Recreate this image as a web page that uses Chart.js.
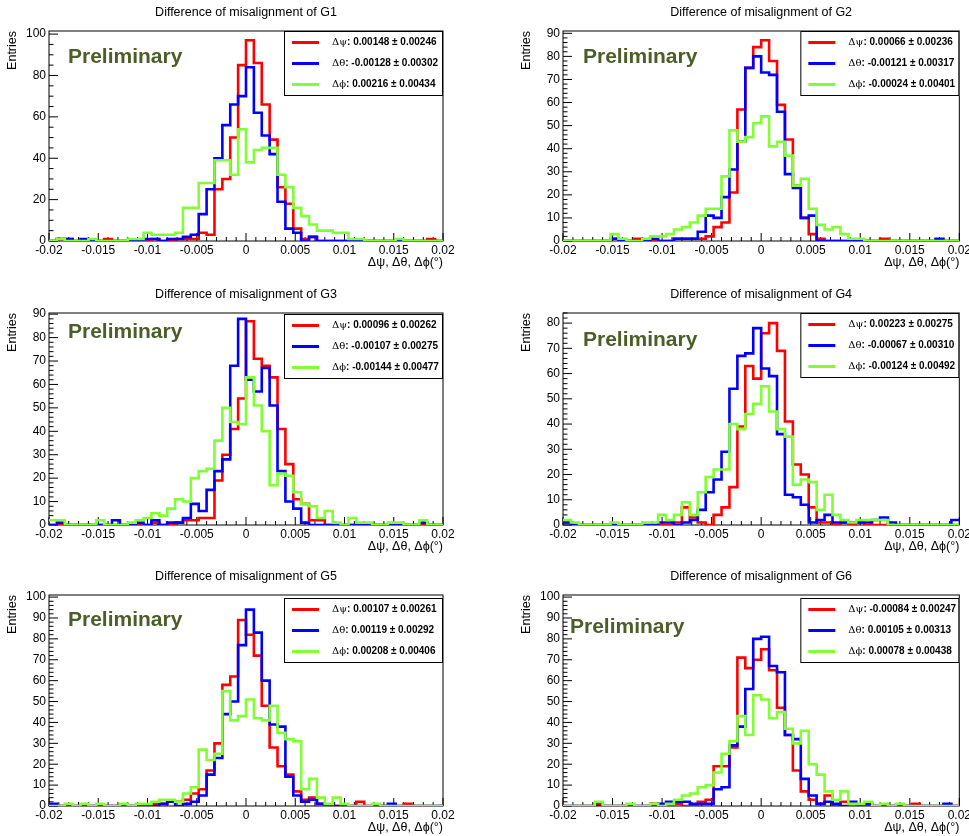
<!DOCTYPE html>
<html>
<head>
<meta charset="utf-8">
<script src="https://cdn.jsdelivr.net/npm/chart.js@4.4.0/dist/chart.umd.min.js"></script>
<style>
    html, body { margin: 0; padding: 0; background: #fff; overflow: hidden; }
    #page { position: relative; width: 969px; height: 836px; }
    #page canvas { position: absolute; }
</style>
</head>
<body>
<div id="page"></div>
<script>
//histogram binning: 50 bins of 0.0008 between -0.02 and 0.02
const binStart = -0.02;
const binWidth = 0.0008;
const xTickValues = [-0.02, -0.015, -0.01, -0.005, 0, 0.005, 0.01, 0.015, 0.02];

//entries per bin (psi = red, theta = blue, phi = green)
const g1Psi   = [0,1,1,0,0,0,0,1,0,0, 0,0,0,1,0,0,1,1,1,4, 3,25,30,50,85,97,86,66,49,26, 18,6,1,2,0,0,0,0,0,0, 0,0,0,0,0,0,0,0,1,0];
const g1Theta = [0,1,1,0,1,0,0,0,0,0, 0,0,1,1,0,1,1,2,3,13, 25,40,56,66,70,84,62,51,42,19, 6,4,0,2,0,0,0,0,0,0, 0,0,0,0,0,0,0,0,0,0];
const g1Phi   = [0,1,0,0,0,1,0,0,0,0, 1,1,4,3,3,3,4,16,16,28, 28,39,39,32,54,38,44,45,45,32, 26,16,12,8,5,5,4,4,1,1, 0,0,0,0,1,0,0,0,0,0];

const g2Psi   = [0,0,0,0,0,0,1,0,0,1, 0,0,0,0,1,1,1,1,2,6, 8,21,57,75,84,87,78,59,44,24, 10,3,1,0,0,0,0,0,0,0, 1,0,0,0,0,0,0,0,0,0];
const g2Theta = [0,0,0,0,0,0,1,0,0,0, 0,1,0,0,1,1,1,4,11,10, 19,31,43,75,80,73,72,56,29,23, 10,11,0,0,0,0,0,0,0,0, 0,0,0,0,0,0,0,1,0,0];
const g2Phi   = [0,0,0,0,0,0,3,1,0,0, 1,2,2,3,5,6,8,11,14,14, 28,48,43,45,51,54,41,43,37,24, 27,14,7,5,6,3,1,1,0,0, 0,0,0,0,0,0,0,0,0,0];

const g3Psi   = [0,0,0,0,0,0,0,0,0,0, 0,0,0,1,0,0,1,2,2,3, 3,19,30,41,54,87,71,68,63,41, 26,11,9,2,2,0,0,0,0,0, 0,0,0,0,0,0,0,0,0,0];
const g3Theta = [0,1,0,0,0,0,0,0,2,0, 0,1,0,2,0,1,1,3,9,6, 15,23,28,68,88,62,57,67,51,23, 10,7,1,0,0,0,0,0,0,0, 0,0,0,0,0,0,0,1,0,0];
const g3Phi   = [2,2,0,0,0,0,2,0,0,0, 1,2,3,5,4,7,11,10,20,23, 24,36,50,44,43,63,51,40,17,22, 21,14,9,8,3,6,1,0,3,1, 1,0,0,1,1,0,0,2,0,0];

const g4Psi   = [1,0,0,0,0,0,0,0,0,0, 0,0,0,0,1,7,3,1,0,4, 7,15,39,63,58,76,80,69,41,24, 20,7,1,1,0,1,0,1,0,0, 0,0,0,0,0,0,0,0,0,0];
const g4Theta = [1,0,0,0,0,0,0,0,0,0, 0,0,1,1,0,1,2,6,13,18, 29,54,67,68,78,62,59,36,12,11, 8,1,2,4,1,1,1,1,1,2, 3,1,0,0,0,0,0,0,0,2];
const g4Phi   = [2,1,0,0,0,0,1,0,0,0, 1,1,4,2,4,9,4,13,19,22, 22,40,38,44,48,55,45,38,35,16, 18,17,6,12,4,2,1,2,2,2, 2,0,0,0,0,0,0,0,0,0];

const g5Psi   = [0,0,0,0,0,0,0,0,0,0, 0,0,0,1,1,2,2,3,6,8, 17,30,58,62,89,82,72,48,28,19, 15,7,3,4,1,0,0,0,0,2, 0,0,0,0,0,1,0,0,0,0];
const g5Theta = [1,0,0,0,0,0,0,0,0,0, 0,0,0,0,1,2,0,1,2,5, 15,23,44,50,77,94,83,60,39,38, 14,5,2,3,1,0,0,0,0,0, 0,0,0,1,0,0,0,0,0,0];
const g5Phi   = [0,0,1,0,1,0,1,0,0,1, 0,1,1,2,3,3,2,6,9,27, 22,25,55,41,43,51,42,41,48,35, 32,31,8,13,4,1,4,1,0,0, 0,1,0,0,0,0,0,0,0,0];

const g6Psi   = [0,0,0,0,1,0,0,0,0,0, 0,1,0,0,1,0,0,2,3,19, 19,28,71,66,70,75,65,47,34,17, 7,3,1,5,0,2,0,0,0,0, 0,0,0,0,1,0,0,0,0,0];
const g6Theta = [0,0,0,0,0,0,0,0,0,0, 0,0,1,2,2,2,1,1,1,8, 9,29,38,56,80,81,67,64,34,32, 13,5,1,2,1,0,2,0,1,0, 0,0,0,0,0,0,0,0,1,0];
const g6Phi   = [0,0,0,0,2,0,0,0,1,0, 0,1,0,1,3,5,6,9,10,16, 25,31,43,34,53,51,42,45,37,30, 36,20,15,7,3,7,1,1,2,0, 1,0,1,0,0,0,0,0,0,0];

//fit results shown in the legends
const g1Labels = ["Δψ: 0.00148 ± 0.00246", "Δθ: -0.00128 ± 0.00302", "Δϕ: 0.00216 ± 0.00434"];
const g2Labels = ["Δψ: 0.00066 ± 0.00236", "Δθ: -0.00121 ± 0.00317", "Δϕ: -0.00024 ± 0.00401"];
const g3Labels = ["Δψ: 0.00096 ± 0.00262", "Δθ: -0.00107 ± 0.00275", "Δϕ: -0.00144 ± 0.00477"];
const g4Labels = ["Δψ: 0.00223 ± 0.00275", "Δθ: -0.00067 ± 0.00310", "Δϕ: -0.00124 ± 0.00492"];
const g5Labels = ["Δψ: 0.00107 ± 0.00261", "Δθ: 0.00119 ± 0.00292", "Δϕ: 0.00208 ± 0.00406"];
const g6Labels = ["Δψ: -0.00084 ± 0.00247", "Δθ: 0.00105 ± 0.00313", "Δϕ: 0.00078 ± 0.00438"];

const colors = ["#ff0000", "#0000ff", "#80ff33"];

//one entry per pad: data + where the canvas sits on the page
const panels = [
    {title: "Difference of misalignment of G1", series: [g1Psi, g1Theta, g1Phi], labels: g1Labels, yMax: 101.5, yStep: 20, yMinor: 5,
        left: 0, top: 0, w: 484, h: 275, padBottom: 4, padRight: 41, prelim: [19, 26], legendDy: 0},
    {title: "Difference of misalignment of G2", series: [g2Psi, g2Theta, g2Phi], labels: g2Labels, yMax: 91, yStep: 10, yMinor: 2,
        left: 514, top: 0, w: 459, h: 275, padBottom: 4, padRight: 13, prelim: [20, 26], legendDy: 0},
    {title: "Difference of misalignment of G3", series: [g3Psi, g3Theta, g3Phi], labels: g3Labels, yMax: 90.5, yStep: 10, yMinor: 2,
        left: 0, top: 282, w: 484, h: 277, padBottom: 4, padRight: 41, prelim: [19, 19], legendDy: 1},
    {title: "Difference of misalignment of G4", series: [g4Psi, g4Theta, g4Phi], labels: g4Labels, yMax: 84, yStep: 10, yMinor: 2,
        left: 514, top: 282, w: 459, h: 277, padBottom: 4, padRight: 13, prelim: [20, 27], legendDy: 0},
    {title: "Difference of misalignment of G5", series: [g5Psi, g5Theta, g5Phi], labels: g5Labels, yMax: 101, yStep: 10, yMinor: 2,
        left: 0, top: 564, w: 484, h: 272, padBottom: 0, padRight: 41, prelim: [19, 25], legendDy: 3},
    {title: "Difference of misalignment of G6", series: [g6Psi, g6Theta, g6Phi], labels: g6Labels, yMax: 101, yStep: 10, yMinor: 2,
        left: 514, top: 564, w: 459, h: 272, padBottom: 0, padRight: 13, prelim: [7, 32], legendDy: 3}
];

Chart.defaults.font.family = '"Liberation Sans", Arial, sans-serif';
Chart.defaults.color = "#000";

//turn bin contents into step points at the bin edges (last edge repeats the last bin)
function histPoints(values){
    const points = values.map((v, i) => ({x: binStart + i * binWidth, y: v}));
    points.push({x: binStart + values.length * binWidth, y: values[values.length - 1]});
    return points;
}

function formatX(value){
    return String(Number(value.toFixed(3)));
}

//ROOT style frame with inward ticks, the Preliminary tag and the boxed legend
const rootPad = {
    id: "rootPad",
    beforeDatasetsDraw(chart, args, opts){
        const {ctx, chartArea: a, scales: {x, y}} = chart;
        ctx.save();
        ctx.strokeStyle = "#000";
        ctx.lineWidth = 1;
        ctx.strokeRect(a.left, a.top, a.width, a.height);
        ctx.beginPath();
        //x ticks: major every 0.005, minor every 0.001
        for(let k = 0; k <= 40; k++){
            const px = x.getPixelForValue(-0.02 + k * 0.001);
            const len = (k % 5 === 0) ? 8 : 4;
            ctx.moveTo(px, a.bottom);
            ctx.lineTo(px, a.bottom - len);
        }
        //y ticks
        for(let v = 0; v <= opts.yMax; v += opts.yMinor){
            const py = y.getPixelForValue(v);
            const len = (v % opts.yStep === 0) ? 9 : 4.5;
            ctx.moveTo(a.left, py);
            ctx.lineTo(a.left + len, py);
        }
        ctx.stroke();
        ctx.restore();
    },
    afterDatasetsDraw(chart, args, opts){
        const {ctx, chartArea: a} = chart;
        ctx.save();
        //Preliminary
        ctx.fillStyle = "#4b5e28";
        ctx.font = 'bold 21px "Liberation Sans"';
        ctx.textBaseline = "middle";
        ctx.textAlign = "left";
        ctx.fillText("Preliminary", a.left + opts.prelim[0], a.top + opts.prelim[1]);
        //legend box
        const boxW = 159, boxH = 65;
        const bx = a.right - boxW;
        const by = a.top + opts.legendDy;
        ctx.fillStyle = "#fff";
        ctx.fillRect(bx, by, boxW, boxH);
        ctx.strokeStyle = "#000";
        ctx.lineWidth = 1;
        ctx.strokeRect(bx + 0.5, by + 0.5, boxW - 1, boxH - 1);
        chart.data.datasets.forEach((ds, i) => {
            const cy = by + 11.5 + i * 21;
            ctx.strokeStyle = ds.borderColor;
            ctx.lineWidth = 3;
            ctx.beginPath();
            ctx.moveTo(bx + 8, cy);
            ctx.lineTo(bx + 35, cy);
            ctx.stroke();
            const cut = ds.label.indexOf(":");
            const sym = ds.label.slice(0, cut);
            const rest = ds.label.slice(cut);
            ctx.fillStyle = "#000";
            ctx.font = '10px "DejaVu Serif"';
            ctx.fillText(sym, bx + 48, cy);
            const w = ctx.measureText(sym).width;
            ctx.font = 'bold 10px "Liberation Sans"';
            ctx.fillText(rest, bx + 48 + w, cy);
        });
        ctx.restore();
    }
};

const page = document.getElementById("page");

function makeChart(panel){
    const canvas = document.createElement("canvas");
    canvas.width = panel.w;
    canvas.height = panel.h;
    canvas.style.left = panel.left + "px";
    canvas.style.top = panel.top + "px";
    page.appendChild(canvas);

    const datasets = panel.series.map((values, i) => ({
        label: panel.labels[i],
        data: histPoints(values),
        borderColor: colors[i],
        borderWidth: 2.6,
        pointRadius: 0,
        fill: false,
        stepped: "before",
        order: 2 - i
    }));

    new Chart(canvas, {
        type: "line",
        data: {datasets: datasets},
        options: {
            responsive: false,
            animation: false,
            devicePixelRatio: 1,
            parsing: false,
            layout: {padding: {left: 0, right: panel.padRight, top: 0, bottom: panel.padBottom}},
            plugins: {
                legend: {display: false},
                tooltip: {enabled: false},
                title: {
                    display: true,
                    text: panel.title,
                    fullSize: false,
                    color: "#000",
                    font: {size: 12.5, weight: "normal"},
                    padding: {top: 5, bottom: 11}
                },
                rootPad: {yMax: panel.yMax, yStep: panel.yStep, yMinor: panel.yMinor, prelim: panel.prelim, legendDy: panel.legendDy}
            },
            scales: {
                x: {
                    type: "linear",
                    min: -0.02,
                    max: 0.02,
                    afterFit: scale => { scale.height = 30; },
                    afterBuildTicks: scale => { scale.ticks = xTickValues.map(v => ({value: v})); },
                    grid: {display: false, drawTicks: false},
                    border: {display: false},
                    ticks: {autoSkip: false, maxRotation: 0, padding: 2, font: {size: 12}, callback: v => formatX(v)},
                    title: {display: true, text: "Δψ, Δθ, Δϕ(°)", align: "end", font: {size: 12.5}, padding: {top: 0, bottom: 1}}
                },
                y: {
                    type: "linear",
                    min: 0,
                    max: panel.yMax,
                    afterFit: scale => { scale.width = 49; },
                    grid: {display: false, drawTicks: false},
                    border: {display: false},
                    ticks: {stepSize: panel.yStep, includeBounds: false, padding: 3, font: {size: 12}},
                    title: {display: true, text: "Entries", align: "end", font: {size: 12.5}, padding: {top: 5.5, bottom: 0}}
                }
            }
        },
        plugins: [rootPad]
    });
}

panels.forEach(makeChart);
</script>
</body>
</html>
